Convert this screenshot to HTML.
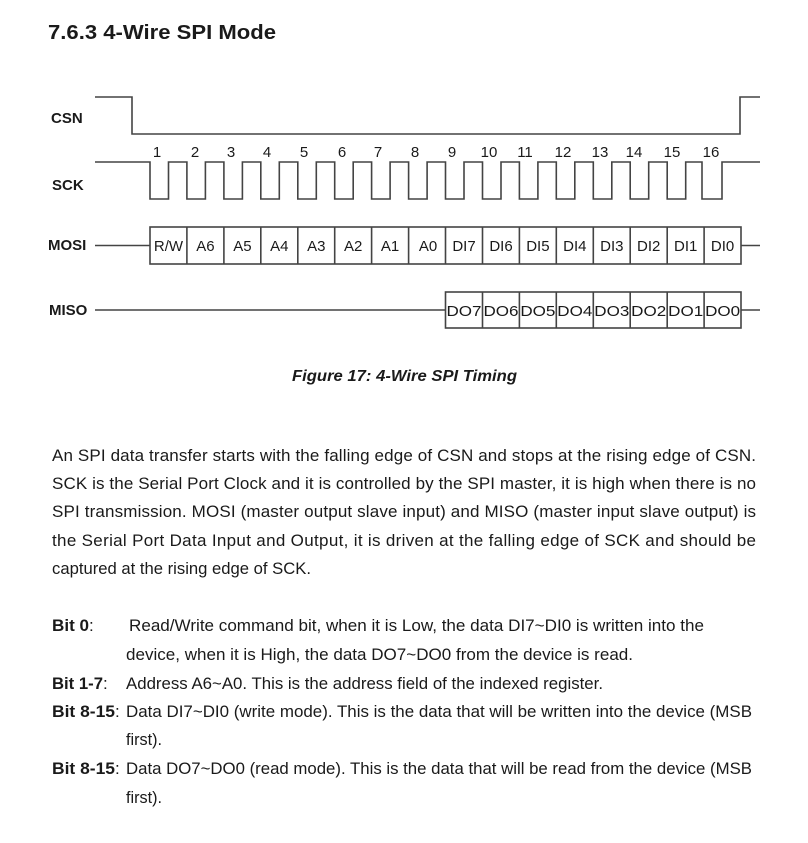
<!DOCTYPE html>
<html><head><meta charset="utf-8"><style>
html,body{margin:0;padding:0;background:#fff;}
svg{display:block;}
text{font-family:"Liberation Sans",sans-serif;fill:#1a1a1a;}
.b{font-weight:bold;}
</style></head><body>
<svg width="808" height="843" viewBox="0 0 808 843">
<text x="48" y="39" class="b" font-size="20" textLength="228" lengthAdjust="spacingAndGlyphs">7.6.3  4-Wire SPI Mode</text>
<g class="b" font-size="15">
<text x="51" y="123">CSN</text>
<text x="52" y="190">SCK</text>
<text x="48" y="250">MOSI</text>
<text x="49" y="315">MISO</text>
</g>
<g fill="none" stroke="#444" stroke-width="1.6">
<path d="M95,97 H132 V134 H740 V97 H760"/>
<path d="M95,162 H150 V199 H168.5 V162 H186.9 V199 H205.4 V162 H223.9 V199 H242.4 V162 H260.8 V199 H279.3 V162 H297.8 V199 H316.3 V162 H334.7 V199 H353.2 V162 H371.6 V199 H390.1 V162 H408.6 V199 H427.1 V162 H445.5 V199 H464 V162 H482.5 V199 H501 V162 H519.4 V199 H537.9 V162 H556.3 V199 H574.8 V162 H593.3 V199 H611.8 V162 H630.2 V199 H648.7 V162 H667.2 V199 H685.7 V162 H702 V199 H722 V162 H760"/>
<path d="M95,245.5 H150 M741,245.5 H760 M95,310 H445.5 M741,310 H760"/>
<rect x="150" y="227" width="591" height="37"/>
<rect x="445.5" y="292" width="295.5" height="36"/>
<path d="M186.9,227V264 M223.9,227V264 M260.8,227V264 M297.8,227V264 M334.7,227V264 M371.6,227V264 M408.6,227V264 M445.5,227V264 M482.5,227V264 M519.4,227V264 M556.3,227V264 M593.3,227V264 M630.2,227V264 M667.2,227V264 M704.1,227V264"/>
<path d="M482.5,292V328 M519.4,292V328 M556.3,292V328 M593.3,292V328 M630.2,292V328 M667.2,292V328 M704.1,292V328"/>
</g>
<g font-size="15" text-anchor="middle">
<text x="157" y="157">1</text><text x="195" y="157">2</text><text x="231" y="157">3</text><text x="267" y="157">4</text>
<text x="304" y="157">5</text><text x="342" y="157">6</text><text x="378" y="157">7</text><text x="415" y="157">8</text>
<text x="452" y="157">9</text><text x="489" y="157">10</text><text x="525" y="157">11</text><text x="563" y="157">12</text>
<text x="600" y="157">13</text><text x="634" y="157">14</text><text x="672" y="157">15</text><text x="711" y="157">16</text>
</g>
<g font-size="15" text-anchor="middle">
<text x="168.5" y="251">R/W</text><text x="205.4" y="251">A6</text><text x="242.4" y="251">A5</text><text x="279.3" y="251">A4</text>
<text x="316.3" y="251">A3</text><text x="353.2" y="251">A2</text><text x="390.1" y="251">A1</text><text x="428" y="251">A0</text>
<text x="464" y="251">DI7</text><text x="501" y="251">DI6</text><text x="537.9" y="251">DI5</text><text x="574.8" y="251">DI4</text>
<text x="611.8" y="251">DI3</text><text x="648.7" y="251">DI2</text><text x="685.7" y="251">DI1</text><text x="722.6" y="251">DI0</text>
</g>
<g font-size="15" text-anchor="middle">
<text x="464" y="316" textLength="35" lengthAdjust="spacingAndGlyphs">DO7</text><text x="501" y="316" textLength="35" lengthAdjust="spacingAndGlyphs">DO6</text>
<text x="537.9" y="316" textLength="35" lengthAdjust="spacingAndGlyphs">DO5</text><text x="574.8" y="316" textLength="35" lengthAdjust="spacingAndGlyphs">DO4</text>
<text x="611.8" y="316" textLength="35" lengthAdjust="spacingAndGlyphs">DO3</text><text x="648.7" y="316" textLength="35" lengthAdjust="spacingAndGlyphs">DO2</text>
<text x="685.7" y="316" textLength="35" lengthAdjust="spacingAndGlyphs">DO1</text><text x="722.6" y="316" textLength="35" lengthAdjust="spacingAndGlyphs">DO0</text>
</g>
<text x="292" y="381" class="b" font-style="italic" font-size="16" textLength="225" lengthAdjust="spacingAndGlyphs">Figure 17: 4-Wire SPI Timing</text>
<g font-size="17">
<text x="52" y="461" textLength="704" lengthAdjust="spacing">An SPI data transfer starts with the falling edge of CSN and stops at the rising edge of CSN.</text>
<text x="52" y="489" textLength="704" lengthAdjust="spacing">SCK is the Serial Port Clock and it is controlled by the SPI master, it is high when there is no</text>
<text x="52" y="517" textLength="704" lengthAdjust="spacing">SPI transmission. MOSI (master output slave input) and MISO (master input slave output) is</text>
<text x="52" y="546" textLength="704" lengthAdjust="spacing">the Serial Port Data Input and Output, it is driven at the falling edge of SCK and should be</text>
<text x="52" y="574" textLength="259" lengthAdjust="spacingAndGlyphs">captured at the rising edge of SCK.</text>

<text x="52" y="631" class="b" textLength="37" lengthAdjust="spacingAndGlyphs">Bit 0</text><text x="89" y="631">:</text>
<text x="129" y="631" textLength="575" lengthAdjust="spacingAndGlyphs">Read/Write command bit, when it is Low, the data DI7~DI0 is written into the</text>
<text x="126" y="660" textLength="507" lengthAdjust="spacingAndGlyphs">device,  when it is High, the data DO7~DO0 from the device is read.</text>
<text x="52" y="689" class="b" textLength="51" lengthAdjust="spacingAndGlyphs">Bit 1-7</text><text x="103" y="689">:</text>
<text x="126" y="689" textLength="477" lengthAdjust="spacingAndGlyphs">Address A6~A0. This is the address field of the indexed register.</text>
<text x="52" y="717" class="b" textLength="63" lengthAdjust="spacingAndGlyphs">Bit 8-15</text><text x="115" y="717">:</text>
<text x="126" y="717" textLength="626" lengthAdjust="spacingAndGlyphs">Data DI7~DI0 (write mode). This is the data that will be written into the device (MSB</text>
<text x="126" y="745" textLength="36" lengthAdjust="spacingAndGlyphs">first).</text>
<text x="52" y="774" class="b" textLength="63" lengthAdjust="spacingAndGlyphs">Bit 8-15</text><text x="115" y="774">:</text>
<text x="126" y="774" textLength="626" lengthAdjust="spacingAndGlyphs">Data DO7~DO0 (read mode). This is the data that will be read from the device (MSB</text>
<text x="126" y="803" textLength="36" lengthAdjust="spacingAndGlyphs">first).</text>
</g>
</svg>
</body></html>
